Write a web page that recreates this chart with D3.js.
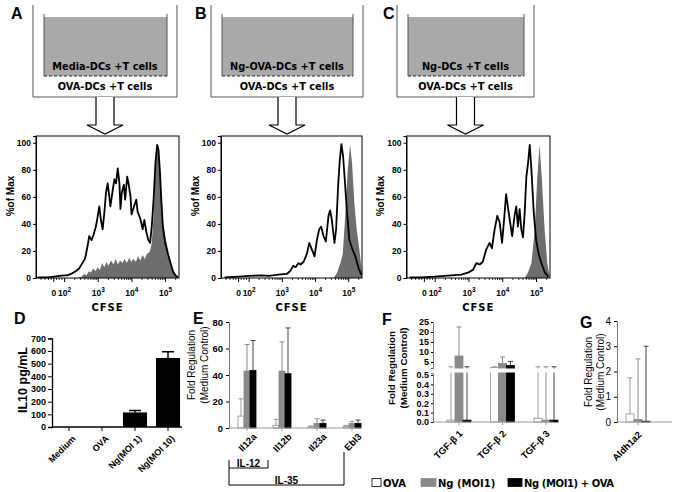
<!DOCTYPE html>
<html>
<head>
<meta charset="utf-8">
<script src="https://cdn.jsdelivr.net/npm/d3@7"></script>
<style>
  body { margin: 0; background: #fff; }
  svg { display: block; }
</style>
</head>
<body>
<svg id="fig" width="675" height="492"></svg>
<script>
// Transwell CFSE histograms (A-C) plus cytokine / gene expression bars (D-G).

// ---------- data ----------
const wellLetters = ['A', 'B', 'C'];
const wellInsertText = ['Media-DCs +T cells', 'Ng-OVA-DCs +T cells', 'Ng-DCs +T cells'];
const wellBottomText = 'OVA-DCs +T cells';

// CFSE axis in display units (biexponential-ish: decade positions)
const cfseDomain = [1.15, 5.4];
const cfseTickU = [1.68, 2, 3, 4, 5];
const cfseTickExp = [0, 2, 3, 4, 5];          // 0 -> plain "0"
const pctTicks = [0, 20, 40, 60, 80, 100];

// [CFSE display unit, % of max]
const aFill = [[2.38,0],[2.50,1],[2.58,3],[2.65,2],[2.72,5],[2.78,4],[2.85,7],[2.92,5],[2.98,8],[3.05,6],[3.12,11],[3.18,8],[3.25,12],[3.30,9],[3.38,13],[3.45,10],[3.52,14],[3.58,10],[3.65,13],[3.72,11],[3.78,14],[3.85,11],[3.92,15],[3.98,12],[4.05,14],[4.12,12],[4.18,16],[4.25,13],[4.32,17],[4.38,14],[4.45,18],[4.52,19],[4.56,22],[4.59,26],[4.65,48],[4.70,80],[4.75,98.5],[4.79,96],[4.85,73],[4.92,43],[4.99,31],[5.07,21],[5.15,12],[5.22,5],[5.32,1],[5.39,0]];
const aOpen = [[1.19,0.5],[1.50,0.5],[1.69,1],[1.85,1.5],[1.99,2],[2.10,2],[2.19,3],[2.33,5],[2.43,7],[2.53,11],[2.60,14],[2.63,17],[2.67,22],[2.70,26],[2.73,31],[2.80,28],[2.86,32],[2.93,38],[2.98,45],[3.03,53],[3.08,43],[3.13,36],[3.18,48],[3.23,63],[3.28,70],[3.33,60],[3.36,53],[3.43,65],[3.48,73],[3.53,70],[3.58,81],[3.63,70],[3.66,51],[3.70,63],[3.76,69],[3.80,58],[3.86,75],[3.90,70],[3.96,60],[3.99,47],[4.05,52],[4.13,58],[4.17,49],[4.25,44],[4.32,36],[4.37,43],[4.43,34],[4.49,28],[4.54,26],[4.59,38],[4.65,60],[4.70,85],[4.75,98.5],[4.79,95],[4.83,80],[4.87,60],[4.92,38],[4.99,26],[5.07,18],[5.15,11],[5.22,5],[5.29,2],[5.37,0.5]];

const bFill = [[4.55,0],[4.65,4],[4.75,11],[4.82,18],[4.90,48],[4.97,80],[5.04,98.5],[5.10,85],[5.17,55],[5.24,36],[5.32,21],[5.40,4]];
const bOpen = [[1.26,0.5],[1.67,1],[2.0,1.5],[2.37,2],[2.6,1.5],[2.88,2.5],[3.13,3],[3.23,5],[3.33,9],[3.40,8],[3.48,11],[3.55,10],[3.64,12],[3.74,18],[3.81,26],[3.89,21],[3.97,16],[4.04,28],[4.11,36],[4.17,38],[4.24,31],[4.31,27],[4.39,46],[4.44,50],[4.49,43],[4.57,26],[4.62,36],[4.68,68],[4.73,87],[4.78,99],[4.83,90],[4.88,73],[4.95,48],[5.02,28],[5.10,22],[5.20,16],[5.30,7],[5.38,2.5]];

const cFill = [[4.65,0],[4.75,4],[4.85,11],[4.95,36],[5.02,73],[5.09,98.5],[5.16,73],[5.24,36],[5.32,11],[5.39,1]];
const cOpen = [[1.24,0.5],[1.6,0.5],[1.98,1],[2.48,2],[2.77,2.5],[2.97,4],[3.12,6],[3.22,11],[3.32,10],[3.41,12],[3.51,21],[3.61,26],[3.68,22],[3.76,36],[3.84,46],[3.91,41],[3.98,26],[4.04,43],[4.10,62],[4.15,53],[4.22,41],[4.28,31],[4.35,46],[4.40,53],[4.45,38],[4.50,51],[4.55,36],[4.60,30],[4.65,48],[4.70,75],[4.75,85],[4.80,98.5],[4.85,80],[4.92,48],[4.99,28],[5.07,17],[5.16,10],[5.25,4],[5.35,1]];

// D: IL10 ELISA
const il10Cats = ['Medium', 'OVA', 'Ng(MOI 1)', 'Ng(MOI 10)'];
const il10Vals = [0, 0, 115, 545];
const il10Err = [0, 0, 15, 48];
const il10Ticks = [0, 100, 200, 300, 400, 500, 600, 700];

// E-G: fold regulation vs medium control, one row per series
const seriesNames = ['OVA', 'Ng (MOI1)', 'Ng (MOI1) + OVA'];
const eGenes = ['Il12a', 'Il12b', 'Il23a', 'Ebl3'];
const eVals = [[9, 2, 1, 1], [43, 43, 3.5, 3.5], [43.5, 41, 3.5, 3.5]];
const eErr = [[13, 4.5, 0.5, 1], [20, 22, 3.5, 1.5], [22.5, 34.5, 2.5, 2.5]];
const eTicks = [0, 20, 40, 60, 80];

const fGenes = ['TGF-β 1', 'TGF-β 2', 'TGF-β 3'];
const fVals = [[0.02, 2.2, 0.04], [8, 4.3, 0.02], [0.02, 3.3, 0.02]];
const fErr = [[2.6, 0.4, 2.6], [14.5, 3.2, 2.6], [2.6, 2, 2.6]];
const fTicksHi = [5, 10, 15, 20, 25];
const fTicksLo = [0, 0.1, 0.2, 0.3, 0.4, 0.5];

const gGenes = ['Aldh1a2'];
const gVals = [[0.32], [0.1], [0.03]];
const gErr = [[1.43], [2.4], [2.97]];
const gTicks = [0, 1, 2, 3, 4];

// ---------- styling ----------
const ARIAL = '"Liberation Sans", Arial, sans-serif';
const VERD = '"DejaVu Sans", Verdana, sans-serif';
const barFill = ['#ffffff', '#8a8a8a', '#000000'];
const barStroke = ['#8a8a8a', '#8a8a8a', '#000000'];
const errStroke = ['#9a9a9a', '#8a8a8a', '#444444'];

const svg = d3.select('#fig');

function label(x, y, txt, size, opts = {}) {
  return svg.append('text')
    .attr('x', x).attr('y', y)
    .attr('font-family', opts.family || ARIAL)
    .attr('font-size', size)
    .attr('font-weight', opts.weight || 'bold')
    .attr('text-anchor', opts.anchor || 'start')
    .attr('fill', '#000')
    .text(txt);
}

function vlabel(x, y, txt, size, weight) {
  svg.append('text')
    .attr('transform', `translate(${x},${y}) rotate(-90)`)
    .attr('text-anchor', 'middle').attr('dy', '0.35em')
    .attr('font-family', ARIAL).attr('font-size', size).attr('font-weight', weight || 'bold')
    .text(txt);
}

function styleAxis(g, size, weight) {
  g.select('.domain').attr('stroke', '#000');
  g.selectAll('.tick line').attr('stroke', '#000');
  g.selectAll('.tick text')
    .attr('font-family', ARIAL).attr('font-size', size)
    .attr('font-weight', weight || 'bold').attr('fill', '#000');
}

// ---------- A-C: transwell sketches ----------
const wellOuter = [[33, 177], [211, 363], [397, 534]];
const wellLetterX = [11, 195, 383];

wellOuter.forEach(([ox0, ox1], i) => {
  const g = svg.append('g');
  const ix0 = ox0 + 11, ix1 = ox1 - 10, cx = (ox0 + ox1) / 2;
  g.append('path').attr('d', `M${ox0},5V97H${ox1}V5`)
    .attr('fill', 'none').attr('stroke', '#555').attr('stroke-width', 1);
  g.append('rect').attr('x', ix0).attr('y', 17).attr('width', ix1 - ix0).attr('height', 59)
    .attr('fill', '#a9a9a9');
  g.append('path').attr('d', `M${ix0},14V76M${ix1},14V76`)
    .attr('stroke', '#555').attr('stroke-width', 1);
  g.append('line').attr('x1', ix0).attr('x2', ix1).attr('y1', 76).attr('y2', 76)
    .attr('stroke', '#222').attr('stroke-width', 1).attr('stroke-dasharray', '3,2');
  label(cx, 70, wellInsertText[i], 9.8, { family: VERD, anchor: 'middle' });
  label(cx, 90, wellBottomText, 9.8, { family: VERD, anchor: 'middle' });
  label(wellLetterX[i], 19, wellLetters[i], 16, {});
  // down arrow
  g.append('path')
    .attr('d', `M${cx - 9},97V125H${cx - 18}L${cx},134L${cx + 18},125H${cx + 9}V97`)
    .attr('fill', '#fff').attr('stroke', '#000').attr('stroke-width', 1.2);
});

// ---------- A-C: CFSE histograms ----------
const histX = [[36, 179], [221, 362], [406.5, 550]];
const histY = [278, 136];
const histFill = [aFill, bFill, cFill];
const histOpen = [aOpen, bOpen, cOpen];
const minorU = [1.3, 1.42, 1.52, 1.6, 1.76, 1.84, 1.92];
[2, 3, 4].forEach(d => { for (let k = 2; k <= 9; k++) minorU.push(d + Math.log10(k)); });
minorU.push(5 + Math.log10(2));

histX.forEach((range, i) => {
  const x = d3.scaleLinear().domain(cfseDomain).range(range);
  const y = d3.scaleLinear().domain([0, 105]).range(histY);
  const g = svg.append('g');

  g.append('path').datum(histFill[i])
    .attr('d', d3.area().x(d => x(d[0])).y0(y(0)).y1(d => y(d[1])))
    .attr('fill', '#6e6e6e');
  g.append('path').datum(histOpen[i])
    .attr('d', d3.line().x(d => x(d[0])).y(d => y(d[1])))
    .attr('fill', 'none').attr('stroke', '#000').attr('stroke-width', 1.8)
    .attr('stroke-linejoin', 'round');

  g.append('rect').attr('x', range[0]).attr('y', histY[1])
    .attr('width', range[1] - range[0]).attr('height', histY[0] - histY[1])
    .attr('fill', 'none').attr('stroke', '#000').attr('stroke-width', 1);

  const ay = g.append('g').attr('transform', `translate(${range[0]},0)`)
    .call(d3.axisLeft(y).tickValues(pctTicks).tickSize(3).tickPadding(2));
  styleAxis(ay, 8.5);

  // minor ticks along CFSE axis
  g.selectAll('line.minor').data(minorU.filter(u => u > cfseDomain[0] && u < cfseDomain[1]))
    .join('line').attr('class', 'minor')
    .attr('x1', d => x(d)).attr('x2', d => x(d))
    .attr('y1', histY[0]).attr('y2', histY[0] + 2)
    .attr('stroke', '#000').attr('stroke-width', 0.8);
  g.selectAll('line.major').data(cfseTickU).join('line').attr('class', 'major')
    .attr('x1', d => x(d)).attr('x2', d => x(d))
    .attr('y1', histY[0]).attr('y2', histY[0] + 4)
    .attr('stroke', '#000').attr('stroke-width', 1);
  const tl = g.selectAll('text.tl').data(cfseTickU).join('text').attr('class', 'tl')
    .attr('x', d => x(d)).attr('y', 296)
    .attr('text-anchor', 'middle')
    .attr('font-family', ARIAL).attr('font-size', 8.5).attr('font-weight', 'bold');
  tl.each(function (d, j) {
    const t = d3.select(this);
    if (cfseTickExp[j] === 0) { t.text('0'); return; }
    t.append('tspan').text('10');
    t.append('tspan').attr('dy', -4).attr('font-size', 6.5).text(cfseTickExp[j]);
  });

  svg.append('text').attr('x', (range[0] + range[1]) / 2).attr('y', 311)
    .attr('text-anchor', 'middle').attr('font-family', VERD).attr('font-weight', 'bold')
    .attr('font-size', 10).attr('letter-spacing', 1).text('CFSE');
  vlabel(range[0] - 26, 196, '%of Max', 10);
});

// ---------- D: IL10 ----------
(function () {
  const y = d3.scaleLinear().domain([0, 700]).range([427, 338.3]);
  const x = d3.scaleBand().domain(il10Cats).range([52, 185]).paddingInner(0.27).paddingOuter(0.15);
  const g = svg.append('g');
  g.selectAll('rect').data(il10Vals).join('rect')
    .attr('x', (d, i) => x(il10Cats[i])).attr('width', x.bandwidth())
    .attr('y', d => y(d)).attr('height', d => y(0) - y(d)).attr('fill', '#000');
  il10Vals.forEach((v, i) => {
    if (!il10Err[i]) return;
    const cx = x(il10Cats[i]) + x.bandwidth() / 2;
    g.append('path').attr('d', `M${cx},${y(v)}V${y(v + il10Err[i])}M${cx - 6},${y(v + il10Err[i])}H${cx + 6}`)
      .attr('stroke', '#000').attr('stroke-width', 1.5).attr('fill', 'none');
  });
  const ay = g.append('g').attr('transform', 'translate(52,0)')
    .call(d3.axisLeft(y).tickValues(il10Ticks).tickSize(4).tickPadding(2));
  styleAxis(ay, 9);
  ay.select('.domain').attr('stroke-width', 1.3);
  g.append('line').attr('x1', 52).attr('x2', 182).attr('y1', 427).attr('y2', 427)
    .attr('stroke', '#000').attr('stroke-width', 1.3);
  il10Cats.forEach(c => {
    const cx = x(c) + x.bandwidth() / 2;
    g.append('line').attr('x1', cx).attr('x2', cx).attr('y1', 427).attr('y2', 431).attr('stroke', '#000');
    g.append('text').attr('transform', `translate(${cx + 5},${437}) rotate(-45)`)
      .attr('text-anchor', 'end').attr('dy', '0.35em')
      .attr('font-family', ARIAL).attr('font-size', 9).attr('font-weight', 'bold').text(c);
  });
  vlabel(23, 380, 'IL10 pg/mL', 12.5);
  label(14, 324, 'D', 16, {});
})();

// ---------- E-G: grouped fold-regulation bars ----------
function groupedBars(opt) {
  const g = svg.append('g');
  const x = d3.scalePoint().domain(opt.genes).range(opt.centers);
  const sub = d3.scaleBand().domain(seriesNames).range([-opt.half, opt.half]);
  seriesNames.forEach((s, si) => {
    opt.genes.forEach((gene, gi) => {
      const v = opt.vals[si][gi], e = opt.errs[si][gi];
      const bx = x(gene) + sub(s);
      const cx = bx + sub.bandwidth() / 2;
      g.append('rect').attr('x', bx).attr('width', sub.bandwidth())
        .attr('y', opt.y(v)).attr('height', opt.y0 - opt.y(v))
        .attr('fill', barFill[si]).attr('stroke', barStroke[si]).attr('stroke-width', 0.8);
      const top = opt.y(v + e);
      g.append('path').attr('d', `M${cx},${opt.y(v)}V${top}M${cx - 2.5},${top}H${cx + 2.5}`)
        .attr('stroke', errStroke[si]).attr('stroke-width', 1).attr('fill', 'none');
    });
  });
  if (opt.gap) {
    g.append('rect').attr('x', opt.x0 - 4).attr('width', opt.x1 - opt.x0 + 10)
      .attr('y', opt.gap[0]).attr('height', opt.gap[1] - opt.gap[0]).attr('fill', '#fff');
  }
  g.append('line').attr('x1', opt.x0).attr('x2', opt.x1).attr('y1', opt.y0).attr('y2', opt.y0)
    .attr('stroke', '#999').attr('stroke-width', 1.2);
  opt.genes.forEach(gene => {
    const cx = x(gene);
    g.append('line').attr('x1', cx).attr('x2', cx).attr('y1', opt.y0).attr('y2', opt.y0 + 3).attr('stroke', '#999');
    g.append('text').attr('transform', `translate(${cx + opt.lab[0]},${opt.y0 + opt.lab[1]}) rotate(-45)`)
      .attr('text-anchor', 'end').attr('dy', '0.35em')
      .attr('font-family', ARIAL).attr('font-size', 9.5).attr('font-weight', 'bold').text(gene);
  });
  return { g, x };
}

// E
(function () {
  const y = d3.scaleLinear().domain([0, 80]).range([428, 322]);
  const { g, x } = groupedBars({ genes: eGenes, centers: [247, 352], half: 9, vals: eVals, errs: eErr,
    y, y0: 428, x0: 229, x1: 362, lab: [8, 7] });
  const ay = g.append('g').attr('transform', 'translate(229,0)')
    .call(d3.axisLeft(y).tickValues(eTicks).tickSize(3).tickPadding(3));
  styleAxis(ay, 9.5);
  ay.select('.domain').attr('stroke', '#777');
  vlabel(191, 365, 'Fold Regulation', 10, 'normal');
  vlabel(204, 365, '(Medium Control)', 10, 'normal');
  label(193, 324, 'E', 16, {});
  // IL-12 / IL-35 brackets
  const r12 = x('Il12b') - 14, r35 = x('Ebl3') - 8;
  g.append('path').attr('d', `M229,460V468H${r12}V460`).attr('fill', 'none').attr('stroke', '#000');
  g.append('path').attr('d', `M229,468V485H${r35}V452`).attr('fill', 'none').attr('stroke', '#000');
  label((229 + r12) / 2, 467, 'IL-12', 10, { anchor: 'middle' });
  label((229 + r35) / 2, 484, 'IL-35', 10, { anchor: 'middle' });
})();

// F (broken axis)
(function () {
  const yLo = d3.scaleLinear().domain([0, 0.5]).range([422, 375]);
  const yHi = d3.scaleLinear().domain([2, 25]).range([368, 322]);
  const y = v => (v <= 0.52 ? yLo(v) : yHi(Math.max(v, 2)));
  const { g } = groupedBars({ genes: fGenes, centers: [459, 546], half: 12, vals: fVals, errs: fErr,
    y, y0: 422, x0: 433, x1: 553, lab: [2, 10], gap: [368.5, 372.5] });
  const yLoAxis = d3.scaleLinear().domain([0, 0.52]).range([422, 373.1]);
  const a1 = g.append('g').attr('transform', 'translate(433,0)')
    .call(d3.axisLeft(yHi).tickValues(fTicksHi).tickSize(2).tickPadding(2));
  const a2 = g.append('g').attr('transform', 'translate(433,0)')
    .call(d3.axisLeft(yLoAxis).tickValues(fTicksLo).tickFormat(d3.format('.1f')).tickSize(2).tickPadding(2));
  styleAxis(a1, 9);
  styleAxis(a2, 9);
  [a1, a2].forEach(a => a.select('.domain').attr('stroke', '#777'));
  vlabel(392, 368, 'Fold Regulation', 9.8);
  vlabel(404, 368, '(Medium Control)', 9.8);
  label(382, 325, 'F', 16, {});
})();

// G
(function () {
  const y = d3.scaleLinear().domain([0, 4]).range([422, 321]);
  const { g } = groupedBars({ genes: gGenes, centers: [638, 638], half: 12, vals: gVals, errs: gErr,
    y, y0: 422, x0: 617, x1: 672, lab: [2, 11] });
  const ay = g.append('g').attr('transform', 'translate(617,0)')
    .call(d3.axisLeft(y).tickValues(gTicks).tickFormat(d3.format('d')).tickSize(3).tickPadding(3));
  styleAxis(ay, 10, 'normal');
  ay.select('.domain').attr('stroke', '#777');
  vlabel(588, 372, 'Fold Regulation', 10, 'normal');
  vlabel(600, 372, '(Medium Control)', 10, 'normal');
  label(580, 328, 'G', 16, {});
})();

// ---------- legend ----------
const legendX = [372, 421, 508];
const legendW = [9, 15, 14];
seriesNames.forEach((s, i) => {
  svg.append('rect').attr('x', legendX[i]).attr('y', 478.5).attr('width', legendW[i]).attr('height', 8)
    .attr('fill', barFill[i]).attr('stroke', i === 0 ? '#000' : barFill[i]).attr('stroke-width', 0.8);
  label(legendX[i] + legendW[i] + 2, 487, s, 10, { family: VERD })
    .attr('letter-spacing', i === 2 ? -0.4 : 0);
});
</script>
</body>
</html>
